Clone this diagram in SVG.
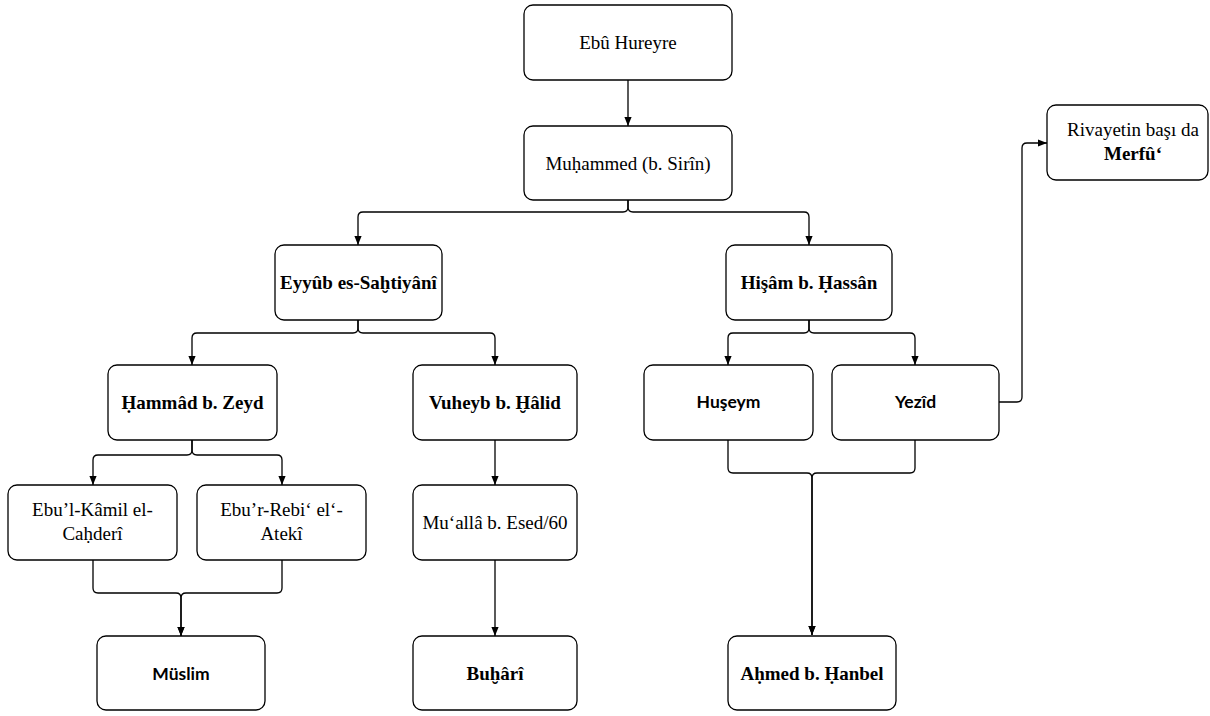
<svg xmlns="http://www.w3.org/2000/svg" width="1210" height="716" viewBox="0 0 1210 716">
<style>
.box{fill:#fff;stroke:#000;stroke-width:1.3}
.c{fill:none;stroke:#000;stroke-width:1.3}
text{font-family:"Liberation Serif","Times New Roman",serif;font-size:19px;fill:#000;text-anchor:middle}
.b{font-weight:bold}
.s{font-family:Lato,"Open Sans",sans-serif;font-weight:bold;font-size:17.5px}
</style>
<defs>
<marker id="ah" viewBox="0 0 10 8" markerWidth="9" markerHeight="7.5" refX="10" refY="4" orient="auto" markerUnits="userSpaceOnUse">
<path d="M0,0 L10,4 L0,8 z" fill="#000"/>
</marker>
</defs>
<rect width="1210" height="716" fill="#fff"/>
<g id="connectors" marker-end="url(#ah)">
<path class="c" d="M628,80 V126" marker-end="url(#ah)"/>
<path class="c" d="M628,200 V207 Q628,212 623,212 H363 Q358,212 358,217 V245" marker-end="url(#ah)"/>
<path class="c" d="M628,200 V207 Q628,212 633,212 H804 Q809,212 809,217 V245" marker-end="url(#ah)"/>
<path class="c" d="M358,320 V328 Q358,333 353,333 H197 Q192,333 192,338 V365" marker-end="url(#ah)"/>
<path class="c" d="M358,320 V328 Q358,333 363,333 H490 Q495,333 495,338 V365" marker-end="url(#ah)"/>
<path class="c" d="M809,320 V328 Q809,333 804,333 H733 Q728,333 728,338 V365" marker-end="url(#ah)"/>
<path class="c" d="M809,320 V328 Q809,333 814,333 H910 Q915,333 915,338 V365" marker-end="url(#ah)"/>
<path class="c" d="M192,440 V450 Q192,455 187,455 H98 Q93,455 93,460 V485" marker-end="url(#ah)"/>
<path class="c" d="M192,440 V450 Q192,455 197,455 H277 Q282,455 282,460 V485" marker-end="url(#ah)"/>
<path class="c" d="M93,560 V588 Q93,593 98,593 H176 Q181,593 181,598 V636" marker-end="url(#ah)"/>
<path class="c" d="M282,560 V588 Q282,593 277,593 H186 Q181,593 181,598 V636" marker-end="url(#ah)"/>
<path class="c" d="M495,440 V485" marker-end="url(#ah)"/>
<path class="c" d="M495,560 V636" marker-end="url(#ah)"/>
<path class="c" d="M728,440 V468 Q728,473 733,473 H807 Q812,473 812,478 V635" marker-end="url(#ah)"/>
<path class="c" d="M915,440 V468 Q915,473 910,473 H817 Q812,473 812,478 V635" marker-end="url(#ah)"/>
<path class="c" d="M999,402 H1017 Q1022,402 1022,397 V148 Q1022,143 1027,143 H1047" marker-end="url(#ah)"/>
</g>
<g id="n-ebuhureyre"><rect class="box" x="524" y="5" width="208" height="75" rx="9"/><text x="628" y="49">Ebû Hureyre</text></g>
<g id="n-muhammed"><rect class="box" x="524" y="126" width="208" height="74" rx="9"/><text x="628" y="170">Muḥammed (b. Sirîn)</text></g>
<g id="n-eyyub"><rect class="box" x="275" y="245" width="167" height="75" rx="9"/><text class="b" x="358.5" y="289">Eyyûb es-Saḫtiyânî</text></g>
<g id="n-hisam"><rect class="box" x="726" y="245" width="166" height="75" rx="9"/><text class="b" x="809" y="289">Hişâm b. Ḥassân</text></g>
<g id="n-hammad"><rect class="box" x="108" y="365" width="169" height="75" rx="9"/><text class="b" x="192.5" y="409">Ḥammâd b. Zeyd</text></g>
<g id="n-vuheyb"><rect class="box" x="413" y="365" width="164" height="75" rx="9"/><text class="b" x="495" y="409">Vuheyb b. Ḫâlid</text></g>
<g id="n-huseym"><rect class="box" x="644" y="365" width="169" height="75" rx="9"/><text class="s" x="728.5" y="408">Huşeym</text></g>
<g id="n-yezid"><rect class="box" x="832" y="365" width="167" height="75" rx="9"/><text class="s" x="915.5" y="408">Yezîd</text></g>
<g id="n-rivayet"><rect class="box" x="1047" y="105" width="161" height="75" rx="9"/><text x="1133" y="136">Rivayetin başı da</text><text class="b" x="1133" y="160">Merfû‘</text></g>
<g id="n-ebulkamil"><rect class="box" x="8" y="485" width="169" height="75" rx="9"/><text x="92.5" y="516">Ebu’l-Kâmil el-</text><text x="92.5" y="540">Caḥderî</text></g>
<g id="n-eburrebi"><rect class="box" x="197" y="485" width="169" height="75" rx="9"/><text x="281.5" y="516">Ebu’r-Rebi‘ el‘-</text><text x="281.5" y="540">Atekî</text></g>
<g id="n-muallah"><rect class="box" x="413" y="485" width="164" height="75" rx="9"/><text x="495" y="529">Mu‘allâ b. Esed/60</text></g>
<g id="n-muslim"><rect class="box" x="97" y="636" width="168" height="74" rx="9"/><text class="s" x="181" y="680">Müslim</text></g>
<g id="n-buhari"><rect class="box" x="413" y="636" width="164" height="74" rx="9"/><text class="b" x="495" y="680">Buḫârî</text></g>
<g id="n-ahmed"><rect class="box" x="728" y="636" width="168" height="74" rx="9"/><text class="b" x="812" y="680">Aḥmed b. Ḥanbel</text></g>
</svg>
